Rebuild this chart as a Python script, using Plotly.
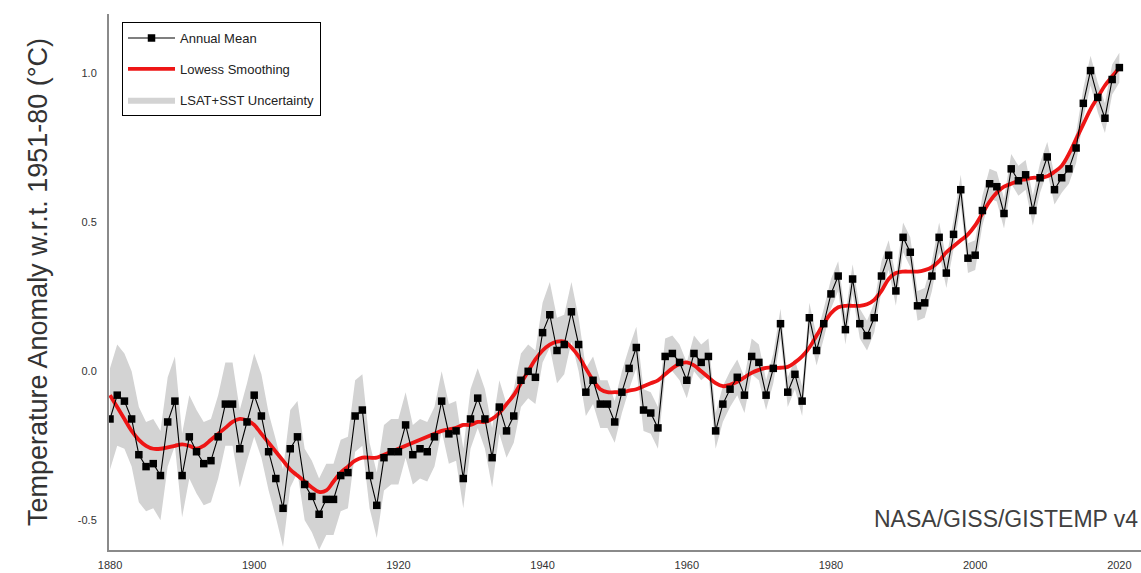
import plotly.graph_objects as go

years = list(range(1880, 2021))

annual_mean = [
    -0.16, -0.08, -0.10, -0.16, -0.28, -0.32, -0.31, -0.35, -0.17, -0.10,
    -0.35, -0.22, -0.27, -0.31, -0.30, -0.22, -0.11, -0.11, -0.26, -0.17,
    -0.08, -0.15, -0.27, -0.36, -0.46, -0.26, -0.22, -0.38, -0.42, -0.48,
    -0.43, -0.43, -0.35, -0.34, -0.15, -0.13, -0.35, -0.45, -0.29, -0.27,
    -0.27, -0.18, -0.28, -0.26, -0.27, -0.22, -0.10, -0.21, -0.20, -0.36,
    -0.16, -0.09, -0.16, -0.29, -0.12, -0.20, -0.15, -0.03, 0.00, -0.02,
    0.13, 0.19, 0.07, 0.09, 0.20, 0.09, -0.07, -0.03, -0.11, -0.11,
    -0.17, -0.07, 0.01, 0.08, -0.13, -0.14, -0.19, 0.05, 0.06, 0.03,
    -0.03, 0.06, 0.03, 0.05, -0.20, -0.11, -0.06, -0.02, -0.08, 0.05,
    0.03, -0.08, 0.01, 0.16, -0.07, -0.01, -0.10, 0.18, 0.07, 0.16,
    0.26, 0.32, 0.14, 0.31, 0.16, 0.12, 0.18, 0.32, 0.39, 0.27,
    0.45, 0.40, 0.22, 0.23, 0.32, 0.45, 0.33, 0.46, 0.61, 0.38,
    0.39, 0.54, 0.63, 0.62, 0.53, 0.68, 0.64, 0.66, 0.54, 0.65,
    0.72, 0.61, 0.65, 0.68, 0.75, 0.90, 1.01, 0.92, 0.85, 0.98,
    1.02,
]

lowess = [
    -0.08, -0.12, -0.16, -0.20, -0.23, -0.25, -0.26, -0.26, -0.255, -0.25,
    -0.245, -0.25, -0.26, -0.25, -0.23, -0.21, -0.19, -0.17, -0.16, -0.165,
    -0.18, -0.21, -0.24, -0.27, -0.30, -0.33, -0.35, -0.37, -0.39, -0.405,
    -0.40, -0.37, -0.34, -0.32, -0.30, -0.29, -0.29, -0.29, -0.28, -0.27,
    -0.26, -0.25, -0.24, -0.23, -0.22, -0.21, -0.20, -0.195, -0.19, -0.18,
    -0.18, -0.17, -0.17, -0.16, -0.14, -0.11, -0.08, -0.04, 0.00, 0.04,
    0.07, 0.09, 0.10, 0.10, 0.08, 0.05, 0.01, -0.03, -0.06, -0.07,
    -0.07, -0.07, -0.065, -0.06, -0.05, -0.04, -0.03, -0.01, 0.01, 0.025,
    0.03, 0.02, 0.00, -0.02, -0.04, -0.05, -0.045, -0.035, -0.02, -0.005,
    0.005, 0.012, 0.012, 0.012, 0.015, 0.03, 0.05, 0.08, 0.12, 0.16,
    0.195, 0.215, 0.22, 0.22, 0.22, 0.225, 0.24, 0.27, 0.31, 0.33,
    0.335, 0.335, 0.335, 0.34, 0.35, 0.37, 0.40, 0.42, 0.44, 0.46,
    0.49, 0.53, 0.57, 0.60, 0.62, 0.63, 0.64, 0.645, 0.65, 0.65,
    0.655, 0.67, 0.69, 0.73, 0.78, 0.83, 0.88, 0.92, 0.96, 0.99,
    1.02,
]

uncertainty = [
    0.17, 0.17, 0.16, 0.16, 0.16, 0.15, 0.15, 0.15, 0.15, 0.15,
    0.14, 0.14, 0.14, 0.14, 0.14, 0.14, 0.14, 0.14, 0.13, 0.13,
    0.14, 0.14, 0.13, 0.13, 0.13, 0.13, 0.12, 0.12, 0.12, 0.12,
    0.12, 0.12, 0.12, 0.12, 0.12, 0.12, 0.11, 0.11, 0.11, 0.11,
    0.11, 0.11, 0.10, 0.10, 0.10, 0.10, 0.10, 0.10, 0.10, 0.10,
    0.10, 0.10, 0.10, 0.10, 0.09, 0.09, 0.09, 0.09, 0.09, 0.09,
    0.10, 0.11, 0.11, 0.10, 0.10, 0.09, 0.08, 0.08, 0.08, 0.08,
    0.07, 0.07, 0.07, 0.07, 0.07, 0.07, 0.07, 0.06, 0.06, 0.06,
    0.06, 0.06, 0.06, 0.06, 0.06, 0.06, 0.06, 0.06, 0.06, 0.06,
    0.06, 0.05, 0.05, 0.05, 0.05, 0.05, 0.05, 0.05, 0.05, 0.05,
    0.05, 0.05, 0.05, 0.05, 0.05, 0.05, 0.05, 0.05, 0.05, 0.05,
    0.05, 0.05, 0.05, 0.05, 0.05, 0.05, 0.05, 0.05, 0.05, 0.05,
    0.05, 0.05, 0.05, 0.05, 0.05, 0.05, 0.05, 0.05, 0.05, 0.05,
    0.05, 0.05, 0.05, 0.05, 0.05, 0.05, 0.05, 0.05, 0.05, 0.05,
    0.05,
]

x_ticks = [1880, 1900, 1920, 1940, 1960, 1980, 2000, 2020]
y_ticks = [-0.5, 0.0, 0.5, 1.0]
y_tick_labels = ["-0.5", "0.0", "0.5", "1.0"]

upper = [v + u for v, u in zip(annual_mean, uncertainty)]
lower = [v - u for v, u in zip(annual_mean, uncertainty)]

fig = go.Figure()

fig.add_trace(go.Scatter(
    x=years + years[::-1],
    y=upper + lower[::-1],
    fill="toself",
    fillcolor="#d3d3d3",
    line=dict(color="rgba(0,0,0,0)", width=0),
    mode="lines",
    name="LSAT+SST Uncertainty",
    legendgroup="c",
    legendrank=3,
    hoverinfo="skip",
))

fig.add_trace(go.Scatter(
    x=years, y=lowess,
    mode="lines",
    line=dict(color="#ee1515", width=3.8, shape="spline"),
    name="Lowess Smoothing",
    legendgroup="b",
    legendrank=2,
))

fig.add_trace(go.Scatter(
    x=years, y=annual_mean,
    mode="lines+markers",
    line=dict(color="black", width=1.1),
    marker=dict(symbol="square", size=7.5, color="black"),
    name="Annual Mean",
    legendgroup="a",
    legendrank=1,
))

fig.add_annotation(
    x=0.999, y=0.058, xref="paper", yref="paper",
    xanchor="right", yanchor="middle",
    text="NASA/GISS/GISTEMP v4",
    showarrow=False,
    font=dict(family="Liberation Sans, Arial, sans-serif", size=23, color="#404040"),
)

fig.update_layout(
    width=1141, height=573,
    margin=dict(l=109, r=0, t=14, b=23),
    paper_bgcolor="white",
    plot_bgcolor="white",
    font=dict(family="Liberation Sans, Arial, sans-serif", color="#333333"),
    showlegend=True,
    legend=dict(
        x=0.0126, y=0.985, xanchor="left", yanchor="top",
        bordercolor="black", borderwidth=1,
        bgcolor="white",
        font=dict(size=13, color="#222222"),
        itemwidth=47,
        tracegroupgap=11,
        traceorder="grouped",
    ),
    xaxis=dict(
        range=[1879.86, 2023.0],
        tickmode="array", tickvals=x_ticks,
        ticks="", showgrid=False, zeroline=False,
        showline=True, linecolor="#8a8a8a", linewidth=2,
        tickfont=dict(size=11, color="#333333"),
        ticklabelstandoff=4,
    ),
    yaxis=dict(
        range=[-0.6, 1.2],
        tickmode="array", tickvals=y_ticks, ticktext=y_tick_labels,
        ticks="", showgrid=False, zeroline=False,
        showline=True, linecolor="#8a8a8a", linewidth=2,
        tickfont=dict(size=11, color="#333333"),
        ticklabelstandoff=8,
        title=dict(
            text="Temperature Anomaly w.r.t. 1951-80 (°C)",
            font=dict(size=27, color="#333333"),
            standoff=22,
        ),
    ),
)

fig.write_html(
    "out.html",
    config={"displayModeBar": False},
    post_script="document.body.style.margin='0';document.body.style.overflow='hidden';",
)
